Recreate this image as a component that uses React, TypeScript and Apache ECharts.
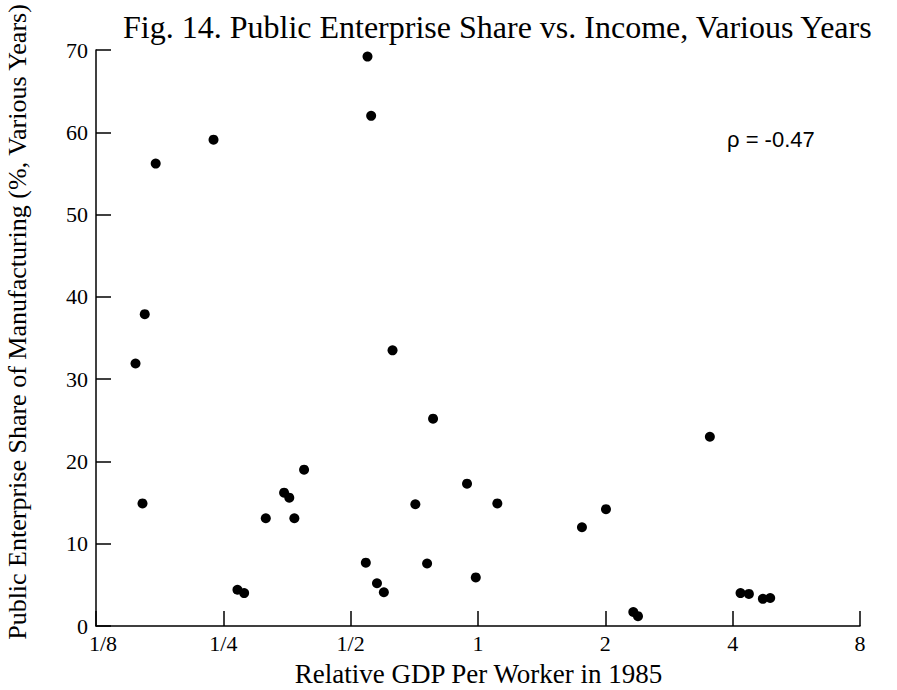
import React, { useEffect, useRef } from "react";
import * as echarts from "echarts";

const gdpPerWorker = [
  0.155, 0.163, 0.161, 0.173, 0.237, 0.548, 0.559, 0.628, 0.783, 0.388, 0.27,
  0.28, 0.315, 0.348, 0.358, 0.368, 0.543, 0.577, 0.599, 0.711, 0.758, 0.942,
  0.988, 1.111, 1.761, 2.007, 3.533, 2.329, 2.389, 4.175, 4.37, 4.715, 4.907,
];
const publicShare = [
  31.9, 37.9, 14.9, 56.2, 59.1, 69.2, 62.0, 33.5, 25.2, 19.0, 4.4, 4.0, 13.1,
  16.2, 15.6, 13.1, 7.7, 5.2, 4.1, 14.8, 7.6, 17.3, 5.9, 14.9, 12.0, 14.2, 23.0,
  1.7, 1.2, 4.0, 3.9, 3.3, 3.4,
];
const xTickValues = [0.125, 0.25, 0.5, 1, 2, 4, 8];
const xTickLabels = ["1/8", "1/4", "1/2", "1", "2", "4", "8"];

const titleText = "Fig. 14. Public Enterprise Share vs. Income, Various Years";
const xAxisTitle = "Relative GDP Per Worker in 1985";
const yAxisTitle = "Public Enterprise Share of Manufacturing (%, Various Years)";
const rhoText = "ρ = -0.47";

const SERIF = '"Liberation Serif", "Times New Roman", serif';
const SANS = '"Liberation Sans", Arial, sans-serif';

export default function App() {
  const ref = useRef<HTMLDivElement>(null);
  useEffect(() => {
    if (!ref.current) return;
    const chart = echarts.init(ref.current, null, { renderer: "svg" });
    const data = gdpPerWorker.map((x, i) => [x, publicShare[i]]);
    const labelFor = (v: number) => {
      const idx = xTickValues.findIndex((t) => Math.abs(t - v) < 1e-6);
      if (idx < 0) return "";
      return idx === 0 ? `{first|${xTickLabels[idx]}}` : xTickLabels[idx];
    };
    chart.setOption({
      animation: false,
      backgroundColor: "#ffffff",
      title: {
        text: titleText,
        left: 118,
        top: 6,
        textStyle: {
          fontFamily: SERIF,
          fontSize: 32,
          fontWeight: "normal",
          color: "#000",
        },
      },
      grid: { left: 96, right: 37, top: 50, bottom: 64, containLabel: false },
      xAxis: {
        type: "log",
        logBase: 2,
        min: 0.125,
        max: 8,
        interval: 1,
        axisLine: { show: true, lineStyle: { color: "#000", width: 1.5 } },
        axisTick: {
          show: true,
          inside: true,
          length: 15,
          lineStyle: { color: "#000", width: 1.5 },
        },
        minorTick: { show: false },
        splitLine: { show: false },
        axisLabel: {
          formatter: (v: number) => labelFor(v),
          fontFamily: SERIF,
          fontSize: 22,
          color: "#000",
          margin: 6,
          rich: {
            first: {
              fontFamily: SERIF,
              fontSize: 22,
              color: "#000",
              padding: [0, 0, 0, 14],
            },
          },
        },
      },
      yAxis: {
        type: "value",
        min: 0,
        max: 70,
        interval: 10,
        axisLine: { show: true, lineStyle: { color: "#000", width: 1.5 } },
        axisTick: {
          show: true,
          inside: true,
          length: 15,
          lineStyle: { color: "#000", width: 1.5 },
        },
        splitLine: { show: false },
        axisLabel: {
          fontFamily: SERIF,
          fontSize: 22,
          color: "#000",
          margin: 8,
        },
      },
      graphic: [
        {
          type: "text",
          x: 478.5,
          y: 674,
          style: {
            text: xAxisTitle,
            font: `27px ${SERIF}`,
            fill: "#000",
            align: "center",
            verticalAlign: "middle",
          },
        },
        {
          type: "text",
          x: 17,
          y: 322,
          rotation: Math.PI / 2,
          style: {
            text: yAxisTitle,
            font: `26px ${SERIF}`,
            fill: "#000",
            align: "center",
            verticalAlign: "middle",
          },
        },
        {
          type: "text",
          x: 727,
          y: 139.5,
          style: {
            text: rhoText,
            font: `22px ${SANS}`,
            fill: "#000",
            align: "left",
            verticalAlign: "middle",
          },
        },
      ],
      series: [
        {
          type: "scatter",
          data,
          symbol: "circle",
          symbolSize: 10,
          itemStyle: { color: "#000", opacity: 1 },
        },
      ],
    });
    return () => chart.dispose();
  }, []);
  return (
    <div
      ref={ref}
      style={{ position: "fixed", left: 0, top: 0, width: 897, height: 690 }}
    />
  );
}
